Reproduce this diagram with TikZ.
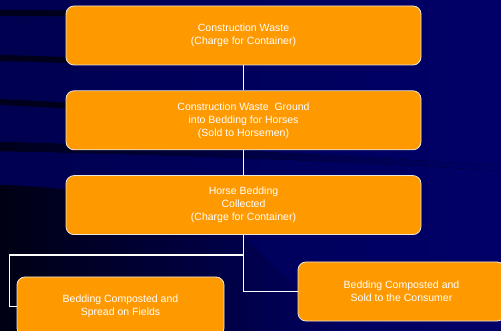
\documentclass[tikz,border=0pt]{standalone}
\usepackage{fontspec}
\setmainfont{Liberation Sans}
\usetikzlibrary{positioning,calc}

\definecolor{navy}{RGB}{0,0,104}
\definecolor{navymid}{RGB}{0,0,80}
\definecolor{stripe}{RGB}{0,0,28}
\definecolor{boxorange}{RGB}{255,153,0}
\definecolor{rim}{RGB}{235,230,220}

\begin{document}
\begin{tikzpicture}[
    x=1pt, y=-1pt,
    node distance=25pt and 25pt,
    every node/.style={font=\fontsize{10.5}{13}\selectfont, text=white},
    stage/.style={draw=rim, line width=0.8pt, rounded corners=8pt,
                  fill=boxorange, minimum width=355pt, minimum height=59pt,
                  align=center, inner sep=0pt},
    leaf/.style ={stage, minimum width=207pt},
    link/.style ={draw=white, line width=1.1pt},
]

% backdrop with the dark swooshes
\useasboundingbox (0,0) rectangle (501,331);
\fill[left color=navymid, right color=navy] (0,0) rectangle (501,331);
\fill[stripe] (0,10) .. controls (40,10) .. (90,11) -- (90,17) .. controls (40,16) .. (0,16) -- cycle;
\fill[stripe] (0,55) .. controls (40,56) .. (90,58) -- (90,64) .. controls (40,62) .. (0,61) -- cycle;
\fill[stripe] (0,99) .. controls (40,101) .. (90,104) -- (90,110) .. controls (40,107) .. (0,105) -- cycle;
\fill[left color=stripe, right color=navy] (0,142) .. controls (150,146) and (350,155) .. (501,166)
      -- (501,171) .. controls (350,161) and (150,154) .. (0,151) -- cycle;
\fill[left color=stripe!70!black, right color=navy!92!black] (0,185) .. controls (80,188) and (160,200) .. (230,225)
      -- (340,331) -- (0,331) -- cycle;

\node[stage]                    (waste)    at (243.5,35.5)
      {Construction Waste\\(Charge for Container)};
\node[stage, below=of waste]    (ground)
      {Construction Waste\ \ Ground\\into Bedding for Horses\\(Sold to Horsemen)};
\node[stage, below=of ground]   (bedding)
      {Horse Bedding\\Collected\\(Charge for Container)};
\node[leaf]                     (fields)   at (120.5,306.5)
      {Bedding Composted and\\Spread on Fields};
\node[leaf]                     (consumer) at (401.5,291.5)
      {Bedding Composted and\\Sold to the Consumer};

\coordinate (split) at (9.5,255);

\draw[link] (waste)   -- (ground);
\draw[link] (ground)  -- (bedding);
\draw[link] (bedding.south) |- (split) |- (fields.west);
\draw[link] (bedding.south) |- (consumer.west);

\end{tikzpicture}
\end{document}
